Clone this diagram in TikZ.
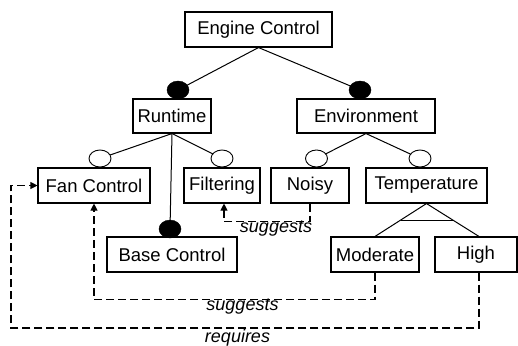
\documentclass[tikz,border=0pt]{standalone}
\usepackage{fontspec}
\setmainfont{Liberation Sans}
\usetikzlibrary{arrows.meta,calc,shapes.geometric}
\begin{document}
\begin{tikzpicture}[x=1pt,y=-1pt,
  feat/.style={draw,line width=1.1pt,rectangle,minimum height=35pt,inner sep=0pt,
     font=\fontsize{18.5}{21}\selectfont},
  mand/.style={draw,fill=black,ellipse,minimum width=22pt,minimum height=18pt,inner sep=0pt},
  opt/.style={draw,fill=white,line width=0.9pt,ellipse,minimum width=22pt,minimum height=17pt,inner sep=0pt},
  edge/.style={line width=1pt},
  dep/.style={line width=1.1pt,dash pattern=on 8pt off 4pt,-{Triangle[length=7pt,width=7pt]}},
  lbl/.style={font=\fontsize{18}{21}\selectfont\itshape,inner sep=0pt}]
\useasboundingbox (0,0) rectangle (518,345);
\path[fill=white] (0,0) rectangle (518,345);
\node[feat,minimum width=147pt] (eng) at (258.5,29.5) {Engine Control};
\node[feat,minimum width=78pt,minimum height=34pt] (run) at (172,116) {Runtime};
\node[feat,minimum width=138pt,minimum height=34pt] (env) at (366,116) {Environment};
\node[feat,minimum width=112pt] (fan) at (94,185.5) {Fan Control};
\node[feat,minimum width=76pt] (fil) at (222,185.5) {Filtering};
\node[feat,minimum width=78pt] (noi) at (310,185.5) {Noisy};
\node[feat,minimum width=121pt] (tem) at (426.5,185.5) {Temperature};
\node[feat,minimum width=130pt] (bas) at (172,254.5) {Base Control};
\node[feat,minimum width=88pt] (mod) at (375,254.5) {Moderate};
\node[feat,minimum width=82pt] (hig) at (476,254.5) {High};
% connectors
\draw[edge] (eng.south) -- (178,90) coordinate (rm);
\draw[edge] (eng.south) -- (360,90) coordinate (em);
\draw[edge] (run.south) -- (100,158.5) coordinate (fo);
\draw[edge] (run.south) -- (222,158.5) coordinate (flo);
\draw[edge] (run.south) -- (170,229) coordinate (bm);
\draw[edge] (env.south) -- (316.5,158.5) coordinate (no);
\draw[edge] (env.south) -- (420,158.5) coordinate (to);
\node[mand] (rmE) at (rm) {};
\node[mand] (emE) at (em) {};
\node[mand] (bmE) at (bm) {};
\node[opt] (foE) at (fo) {};
\node[opt] (floE) at (flo) {};
\node[opt] (noE) at (no) {};
\node[opt] (toE) at (to) {};
\coordinate (hn) at ($(hig.north)+(3,0)$);
\draw[edge] (tem.south) -- (mod.north);
\draw[edge] (tem.south) -- (hn);
\draw[edge] ($(tem.south)!0.5!(mod.north)$) -- ($(tem.south)!0.5!(hn)$);
% dependencies
\coordinate (fb) at ($(fil.south)+(2,0)$);
\draw[dep] (noi.south) -- ++(0,18) -| (fb);
\draw[dep] (mod.south) -- ++(0,27) -| (fan.south);
\coordinate (hs) at ($(hig.south)+(3,0)$);
\coordinate (rc) at (11,328);
\draw[dep] (hs) |- (rc) |- (fan.west);
\node[lbl] (l1) at (276,229) {suggests};
\node[lbl] (l2) at (242.5,307) {suggests};
\node[lbl] (l3) at (237.5,337.5) {requires};
\end{tikzpicture}
\end{document}
